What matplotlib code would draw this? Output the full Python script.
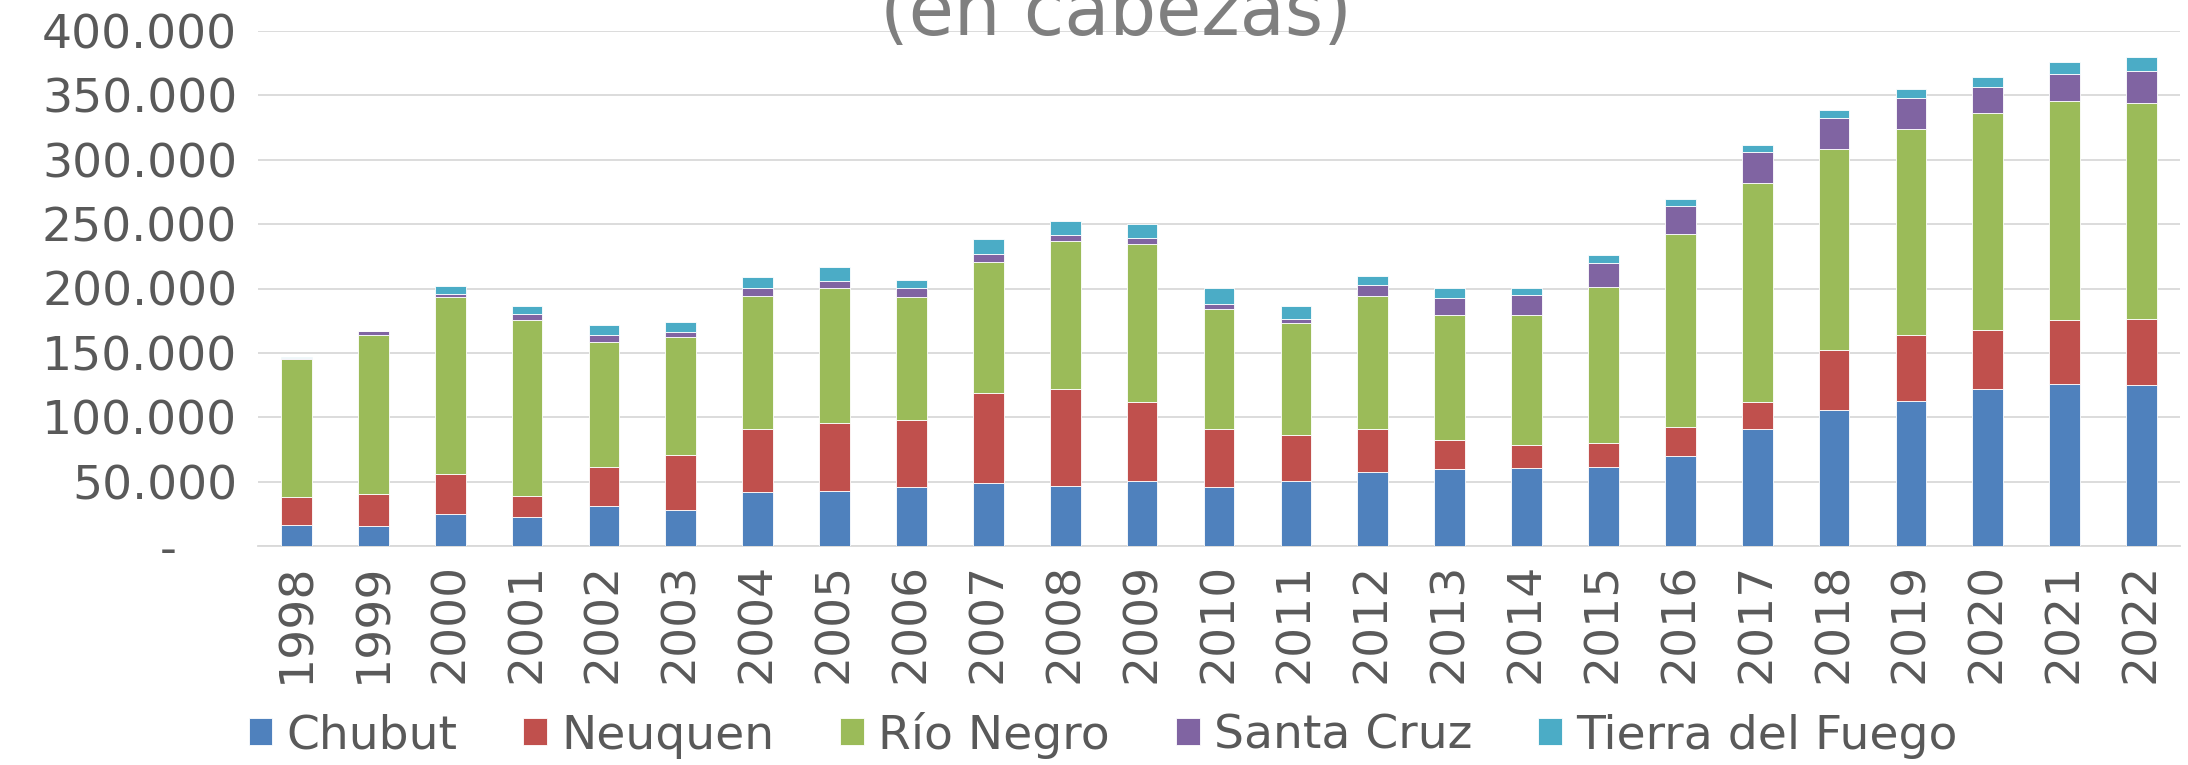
import matplotlib
matplotlib.use("Agg")
import matplotlib.pyplot as plt
from matplotlib.ticker import FuncFormatter
import numpy as np

# data (cabezas)
years = [str(y) for y in range(1998, 2023)]
series_names = ["Chubut", "Neuquen", "Río Negro", "Santa Cruz", "Tierra del Fuego"]

chubut = [16100, 15300, 24900, 22300, 31300, 27800, 42000, 42800, 45900, 48700,
          46700, 50500, 45900, 50500, 57500, 59600, 60400, 61700, 70000, 91200,
          105500, 112500, 121800, 126000, 125000]
neuquen = [22000, 24900, 30800, 16600, 30100, 42700, 48700, 52600, 51800, 70000,
           75600, 61700, 44800, 35600, 33200, 22600, 17900, 18200, 22800, 20500,
           46400, 51000, 45600, 49500, 51300]
rio_negro = [107100, 123600, 137900, 136300, 97200, 91800, 103700, 104700, 95900, 101900,
             114300, 122600, 93600, 86800, 103700, 96900, 101300, 121500, 149300, 170300,
             156300, 160000, 168800, 169800, 167900]
santa_cruz = [1200, 2900, 1800, 5000, 5200, 3600, 6000, 6000, 6500, 5900,
              5000, 4500, 3300, 3100, 8300, 13500, 15600, 18100, 22000, 24100,
              24400, 24300, 20500, 21200, 24600]
tierra_del_fuego = [500, 300, 6800, 6200, 8100, 8000, 8800, 10300, 6500, 11700,
                    10600, 10600, 12800, 10400, 6700, 7500, 5400, 6200, 5700, 5700,
                    6200, 7000, 7500, 9600, 10700]

colors = ["#4F81BD", "#C0504D", "#9BBB59", "#8064A2", "#4BACC6"]
text_color = "#595959"

plt.rcParams["font.family"] = ["DejaVu Sans"]

fig = plt.figure(figsize=(21.88, 7.65), dpi=100)
ax = fig.add_axes([258 / 2188, 1 - 546 / 765, (2180 - 258) / 2188, (546 - 31) / 765])

x = np.arange(len(years))
bottom = np.zeros(len(years))
for name, vals, col in zip(series_names,
                           [chubut, neuquen, rio_negro, santa_cruz, tierra_del_fuego],
                           colors):
    ax.bar(x, vals, width=0.4, bottom=bottom, color=col, label=name,
           edgecolor="#ffffff", linewidth=0.6, zorder=3)
    bottom += np.array(vals)

ax.set_xlim(-0.5, len(years) - 0.5)
ax.set_ylim(0, 400000)
ax.set_yticks(np.arange(0, 400001, 50000))


def fmt(v, pos):
    if v == 0:
        return "-    "
    return "{:,.0f}".format(v).replace(",", ".")


ax.yaxis.set_major_formatter(FuncFormatter(fmt))
ax.set_xticks(x)
ax.set_xticklabels(years, rotation=90)

ax.grid(axis="y", color="#D9D9D9", linewidth=1.3, zorder=0)
for s in ["top", "right", "left"]:
    ax.spines[s].set_visible(False)
ax.spines["bottom"].set_color("#D9D9D9")
ax.spines["bottom"].set_linewidth(1.3)
ax.tick_params(axis="both", length=0, labelsize=34, colors=text_color)
ax.tick_params(axis="y", pad=15)
ax.tick_params(axis="x", pad=12)

# title, partly cut by the top edge as in the original
fig.text(1116 / 2188, 1 - 35 / 765, "(en cabezas)", ha="center", va="baseline",
         fontsize=53, color="#7F7F7F")

leg = fig.legend(loc="center", bbox_to_anchor=(1103 / 2188, 0.039), ncol=5,
                 frameon=False, fontsize=34, handlelength=0.5, handleheight=0.5,
                 handletextpad=0.3, columnspacing=1.4)
for t in leg.get_texts():
    t.set_color(text_color)

fig.savefig("out.png", dpi=100)
